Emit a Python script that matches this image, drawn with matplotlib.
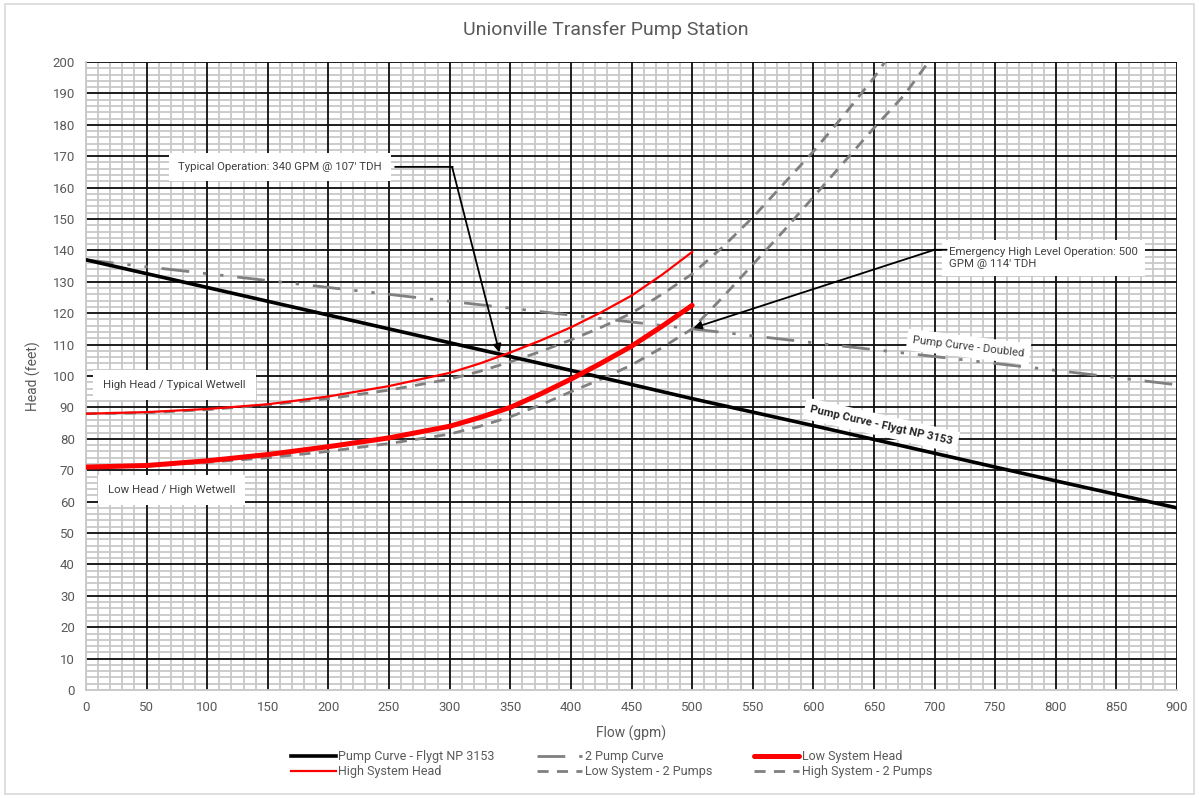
import matplotlib
matplotlib.use("Agg")
import matplotlib.pyplot as plt
from matplotlib.patches import Rectangle

plt.rcParams['font.family'] = ['Roboto', 'DejaVu Sans']

# ---- data ----
pump_flow = [0, 100, 200, 300, 400, 500, 600, 700, 800, 900]
pump_head = [137, 128.2, 119.4, 110.6, 101.8, 92.8, 84.2, 75.4, 66.6, 58]

pump2_flow = [0, 100, 200, 300, 400, 500, 600, 700, 800, 900]
pump2_head = [137, 132.6, 128.2, 123.8, 119.4, 115, 110.6, 106.2, 101.8, 97.2]

sys_flow = [0, 50, 100, 150, 200, 250, 300, 325, 350, 375, 400, 425, 450, 475, 500]
high_sys = [88, 88.5, 89.5, 91, 93.5, 96.8, 101, 104, 107.5, 111.3, 115.5, 120.3, 125.6, 132.2, 139.5]
low_sys = [71, 71.5, 73, 75, 77.5, 80.3, 84, 86.8, 90, 94.3, 99, 104.1, 109.5, 115.8, 122.5]

low2_flow = [0, 50, 100, 150, 200, 250, 300, 325, 350, 375, 400, 425, 450, 475, 500,
             525, 550, 575, 600, 625, 650, 675, 695]
low2_head = [71, 71.3, 72.5, 74, 76, 78.5, 81.5, 84, 87, 90.8, 95, 99, 103.5, 109, 115,
             125, 135.5, 146, 157, 168, 179, 189.5, 200]

high2_flow = [0, 50, 100, 150, 200, 250, 300, 325, 350, 375, 400, 425, 450, 475, 500,
              525, 550, 575, 600, 625, 650, 659]
high2_head = [88, 88.3, 89.3, 90.8, 92.8, 95.5, 99, 101.5, 104.5, 107.8, 111.5, 115.5, 120, 126, 132.5,
              141, 150.5, 161, 171.5, 183, 195, 200]

x_ticks = list(range(0, 901, 50))
y_ticks = list(range(0, 201, 10))
x_minor = list(range(0, 901, 10))
y_minor = list(range(0, 201, 2))

TXT = '#595959'

fig = plt.figure(figsize=(11.99, 7.98), dpi=100)
fig.patches.append(Rectangle((0.004, 0.005), 0.992, 0.99, transform=fig.transFigure,
                             fill=False, edgecolor='#d9d9d9', linewidth=1.2))
ax = fig.add_axes([0.0717, 0.1353, 0.9100, 0.7870])

ax.set_xlim(0, 900)
ax.set_ylim(0, 200)
ax.set_xticks(x_ticks)
ax.set_yticks(y_ticks)

# grid drawn manually: minor below, major above
ax.vlines(x_minor, 0, 200, colors='#c8c8c8', linewidth=1.3, zorder=0.1)
ax.hlines(y_minor, 0, 900, colors='#c8c8c8', linewidth=1.3, zorder=0.1)
ax.vlines(x_ticks[1:], 0, 200, colors='#111111', linewidth=1.3, zorder=0.5)
ax.hlines(y_ticks[1:], 0, 900, colors='#111111', linewidth=1.3, zorder=0.5)

ax.tick_params(which='both', length=0, labelsize=9.5, labelcolor=TXT, pad=8)
for s in ['top', 'right']:
    ax.spines[s].set_visible(False)
for s in ['left', 'bottom']:
    ax.spines[s].set_color('#c8c8c8')
    ax.spines[s].set_linewidth(1.3)

ax.set_xlabel('Flow (gpm)', color=TXT, fontsize=10, labelpad=8)
ax.set_ylabel('Head (feet)', color=TXT, fontsize=10, labelpad=8)
fig.text(0.505, 0.962, 'Unionville Transfer Pump Station', ha='center', va='center',
         fontsize=14, color=TXT)

l_pump, = ax.plot(pump_flow, pump_head, color='black', lw=2.6, zorder=5,
                  label='Pump Curve - Flygt NP 3153')
l_pump2, = ax.plot(pump2_flow, pump2_head, color='#808080', lw=2.0, zorder=4,
                   dashes=(10, 5, 1.2, 5, 1.2, 5), label='2 Pump Curve')
l_low, = ax.plot(sys_flow, low_sys, color='#ff0000', lw=3.6, zorder=6,
                 solid_capstyle='round', solid_joinstyle='round', label='Low System Head')
l_high, = ax.plot(sys_flow, high_sys, color='#ff0000', lw=1.6, zorder=6,
                  label='High System Head')
l_low2, = ax.plot(low2_flow, low2_head, color='#808080', lw=2.0, zorder=4,
                  dashes=(4, 3), label='Low System - 2 Pumps')
l_high2, = ax.plot(high2_flow, high2_head, color='#808080', lw=2.0, zorder=4,
                   dashes=(4, 3), label='High System - 2 Pumps')

ann_fs = 8.2
ANN = '#404040'

# Typical operation callout
ax.text(76, 166.6, 'Typical Operation: 340 GPM @ 107\' TDH', fontsize=ann_fs, color=ANN,
        va='center', ha='left', zorder=8,
        bbox=dict(boxstyle='square,pad=0.8', fc='white', ec='none'))
ax.annotate('', xy=(341, 107.5), xytext=(302, 166.6), zorder=9,
            arrowprops=dict(arrowstyle='-|>', color='black', lw=1.3, mutation_scale=12,
                            shrinkA=0, shrinkB=0))
ax.annotate('', xy=(302.5, 166.6), xytext=(255, 166.6), zorder=9,
            arrowprops=dict(arrowstyle='-', color='black', lw=1.3, shrinkA=0, shrinkB=0))

# Emergency callout
ax.text(712, 137.5, 'Emergency High Level Operation: 500\nGPM @ 114\' TDH', fontsize=ann_fs,
        color=ANN, va='center', ha='left', zorder=8, linespacing=1.25,
        bbox=dict(boxstyle='square,pad=0.6', fc='white', ec='none'))
ax.annotate('', xy=(501, 115.3), xytext=(700, 140.2), zorder=9,
            arrowprops=dict(arrowstyle='-|>', color='black', lw=1.3, mutation_scale=12,
                            shrinkA=0, shrinkB=0))
ax.annotate('', xy=(699, 140.2), xytext=(710, 140.2), zorder=9,
            arrowprops=dict(arrowstyle='-', color='black', lw=1.3, shrinkA=0, shrinkB=0))

ax.text(14, 97.1, 'High Head / Typical Wetwell', fontsize=ann_fs, color=ANN,
        va='center', ha='left', zorder=8,
        bbox=dict(boxstyle='square,pad=0.9', fc='white', ec='none'))
ax.text(18, 63.7, 'Low Head / High Wetwell', fontsize=ann_fs, color=ANN,
        va='center', ha='left', zorder=8,
        bbox=dict(boxstyle='square,pad=0.9', fc='white', ec='none'))

ax.text(728, 109.3, 'Pump Curve - Doubled', fontsize=ann_fs, color=ANN,
        va='center', ha='center', rotation=-7, rotation_mode='anchor', zorder=8,
        bbox=dict(boxstyle='square,pad=0.5', fc='white', ec='none'))
ax.text(656, 84.3, 'Pump Curve - Flygt NP 3153', fontsize=ann_fs, color='#262626',
        fontweight='bold', va='center', ha='center', rotation=-12.8,
        rotation_mode='anchor', zorder=8,
        bbox=dict(boxstyle='square,pad=0.5', fc='white', ec='none'))

handles = [l_pump, l_high, l_pump2, l_low2, l_low, l_high2]
leg = fig.legend(handles=handles, labels=[h.get_label() for h in handles],
                 loc='center', bbox_to_anchor=(0.51, 0.0426), ncol=3, frameon=False,
                 fontsize=9, handlelength=3.6, handletextpad=0.2, columnspacing=3.4,
                 labelspacing=0.15)
for t in leg.get_texts():
    t.set_color(TXT)

fig.savefig('out.png', dpi=100)
